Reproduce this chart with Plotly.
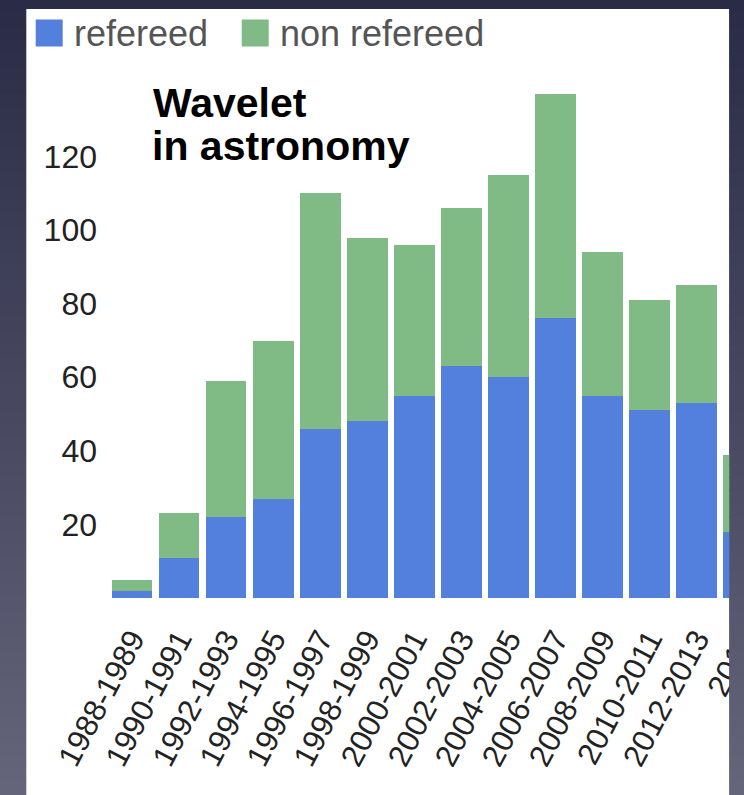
import plotly.graph_objects as go

# Publication counts per two-year period
periods = ["1988-1989", "1990-1991", "1992-1993", "1994-1995", "1996-1997",
           "1998-1999", "2000-2001", "2002-2003", "2004-2005", "2006-2007",
           "2008-2009", "2010-2011", "2012-2013", "2014"]
refereed = [2, 11, 22, 27, 46, 48, 55, 63, 60, 76, 55, 51, 53, 18]
non_refereed = [3, 12, 37, 43, 64, 50, 41, 43, 55, 61, 39, 30, 32, 21]
y_ticks = [20, 40, 60, 80, 100, 120]

BLUE = "#5280dc"
GREEN = "#80bb85"
FONT = "Liberation Sans, Arial, sans-serif"

W, H = 744, 795
ML, MT, MB, MR = 105, 83, 197, 0
PW, PH = W - ML - MR, H - MT - MB

# category axis: first bar centre at 132 px, 47.05 px between bars
pitch = 47.05
x0 = -(132 - ML) / pitch
x1 = x0 + PW / pitch


def px_x(p):
    return (p - ML) / PW


def px_y(p):
    return (H - MB - p) / PH


def rect(xa, ya, xb, yb, color, layer="below"):
    return dict(type="rect", xref="paper", yref="paper",
                x0=px_x(xa), x1=px_x(xb), y0=px_y(yb), y1=px_y(ya),
                fillcolor=color, line=dict(width=0), layer=layer)


def band_color(t):
    top, bot = (42, 43, 70), (100, 101, 122)
    c = [round(a + (b - a) * t) for a, b in zip(top, bot)]
    return "rgb(%d,%d,%d)" % tuple(c)


shapes = []
n_bands = 60
for i in range(n_bands):
    ya, yb = i * H / n_bands, (i + 1) * H / n_bands + 1
    shapes.append(rect(-5, ya, W + 5, yb, band_color(i / (n_bands - 1))))
# white chart panel
shapes.append(rect(26.3, 9, 729.3, H + 5, "white"))
# dark frame on the right, above the bars and labels
for i in range(n_bands):
    ya, yb = i * H / n_bands, (i + 1) * H / n_bands + 1
    shapes.append(rect(729.3, ya, W + 5, yb, band_color(i / (n_bands - 1)), "above"))
# legend swatches
shapes.append(rect(35.7, 19.5, 62.7, 46.5, BLUE, "above"))
shapes.append(rect(241.7, 19.5, 268.7, 46.5, GREEN, "above"))


def label(text, x, y, size, color, bold=False):
    return dict(text="<b>%s</b>" % text if bold else text,
                xref="paper", yref="paper", x=px_x(x), y=px_y(y),
                xanchor="left", yanchor="middle", showarrow=False,
                font=dict(family=FONT, size=size, color=color))


annotations = [
    label("refereed", 72, 33.2, 36, "#555555"),
    label("non refereed", 278, 33.2, 36, "#555555"),
    label("Wavelet", 151, 103.1, 41, "#000000", bold=True),
    label("in astronomy", 150, 145.8, 41, "#000000", bold=True),
]

fig = go.Figure()
fig.add_trace(go.Bar(x=periods, y=refereed, name="refereed",
                     marker=dict(color=BLUE, line=dict(width=0))))
fig.add_trace(go.Bar(x=periods, y=non_refereed, name="non refereed",
                     marker=dict(color=GREEN, line=dict(width=0))))

fig.update_layout(
    template="none",
    width=W, height=H,
    margin=dict(l=ML, r=MR, t=MT, b=MB, pad=0),
    paper_bgcolor=band_color(0.5),
    plot_bgcolor="rgba(0,0,0,0)",
    barmode="stack",
    bargap=0.135,
    showlegend=False,
    shapes=shapes,
    annotations=annotations,
    xaxis=dict(type="category", range=[x0, x1], tickangle=-62,
               showgrid=False, showline=False, zeroline=False, ticks="",
               automargin=False, ticklabelstandoff=16,
               tickfont=dict(family=FONT, size=31, color="#222222")),
    yaxis=dict(range=[0, 140], tickvals=y_ticks, showgrid=False,
               showline=False, zeroline=False, ticks="", automargin=False,
               ticklabelstandoff=7,
               tickfont=dict(family=FONT, size=32, color="#222222")),
)

fig.write_html("out.html")
